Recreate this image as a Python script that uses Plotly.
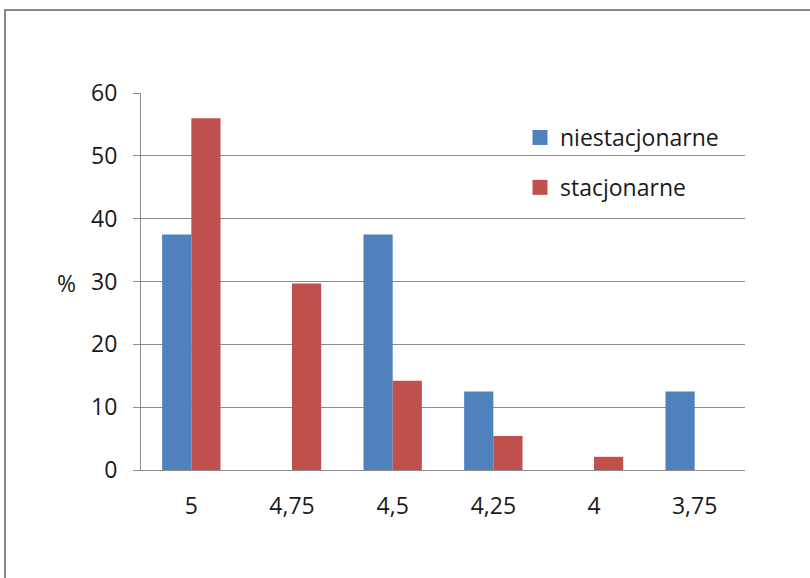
import plotly.graph_objects as go

# Grade categories and percentage shares per study mode
categories = ["5", "4,75", "4,5", "4,25", "4", "3,75"]
niestacjonarne = [37.5, 0, 37.5, 12.5, 0, 12.5]
stacjonarne = [56, 29.7, 14.2, 5.4, 2.1, 0]
y_ticks = [0, 10, 20, 30, 40, 50, 60]

FONT = "Open Sans"
FS = 23
TXT = "#1a1a1a"
GRID = "#8c8c8c"
BLUE, RED = "#4F81BD", "#C0504D"

fig = go.Figure()
fig.add_trace(go.Bar(x=categories, y=niestacjonarne, name="niestacjonarne",
                     marker=dict(color=BLUE, line=dict(width=0)),
                     showlegend=False))
fig.add_trace(go.Bar(x=categories, y=stacjonarne, name="stacjonarne",
                     marker=dict(color=RED, line=dict(width=0)),
                     showlegend=False))
# legend entries with square swatches
for name, col, grp in [("niestacjonarne", BLUE, "a"), ("stacjonarne", RED, "b")]:
    fig.add_trace(go.Scatter(x=[None], y=[None], mode="markers", name=name,
                             marker=dict(symbol="square", size=15, color=col),
                             legendgroup=grp, showlegend=True))

W, H = 810, 578
L, R, T, B = 141, 65, 93, 108
pw, ph = W - L - R, H - T - B

def px_x(p):
    return (p - L) / pw

def px_y(p):
    return (H - B - p) / ph

fig.update_layout(
    width=W, height=H,
    margin=dict(l=L, r=R, t=T, b=B, pad=0),
    paper_bgcolor="white", plot_bgcolor="white",
    barmode="group", bargap=0.42, bargroupgap=0,
    font=dict(family=FONT, size=FS, color=TXT),
    showlegend=True,
    legend=dict(x=px_x(520), y=px_y(116), xanchor="left", yanchor="top",
                bgcolor="rgba(0,0,0,0)", tracegroupgap=17,
                itemwidth=30, font=dict(size=FS, color=TXT)),
    xaxis=dict(type="category", showgrid=False, showline=True,
               linecolor=GRID, linewidth=1, ticks="", ticklabelstandoff=15,
               tickfont=dict(size=FS, color=TXT)),
    yaxis=dict(range=[0, 60], tickvals=y_ticks, showgrid=True,
               gridcolor=GRID, gridwidth=1, showline=True, linecolor=GRID,
               linewidth=1, ticks="outside", ticklen=7, tickcolor=GRID,
               ticklabelstandoff=11, zeroline=False,
               tickfont=dict(size=FS, color=TXT)),
    shapes=[dict(type="rect", xref="paper", yref="paper",
                 x0=px_x(5), x1=px_x(815), y0=px_y(585), y1=px_y(10),
                 line=dict(color="#888888", width=2), fillcolor="rgba(0,0,0,0)",
                 layer="above")],
    annotations=[dict(text="%", xref="paper", yref="paper",
                      x=px_x(66), y=px_y(283), xanchor="center", yanchor="middle",
                      showarrow=False, font=dict(size=FS, color=TXT))],
)

fig.write_html("out.html")
